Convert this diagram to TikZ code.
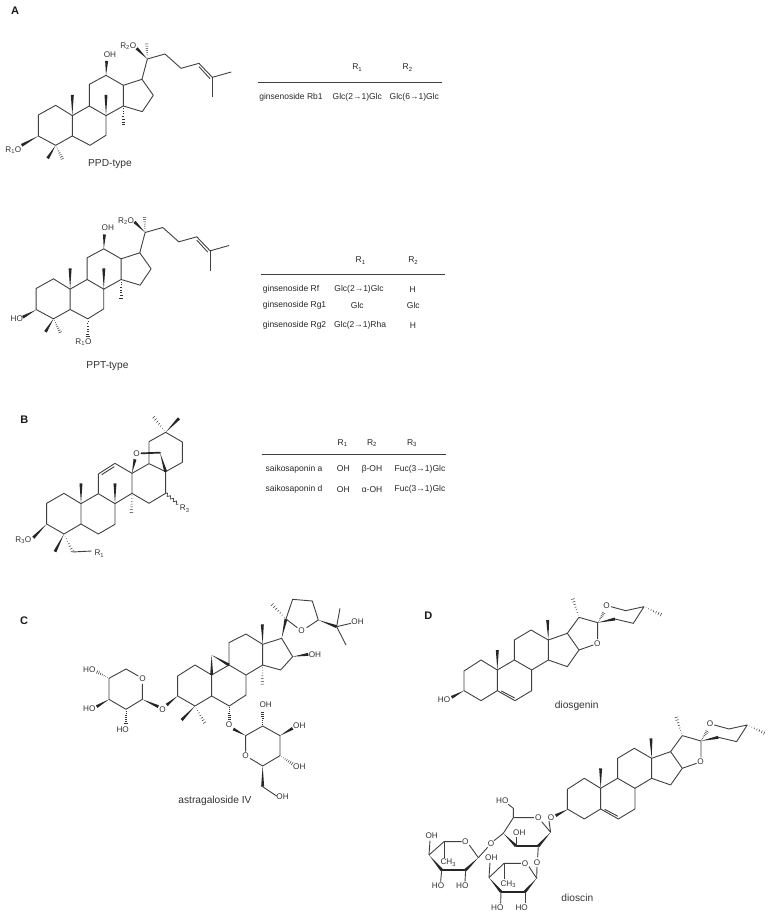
\documentclass[tikz,border=0pt]{standalone}
\usepackage{fontspec}
\setmainfont{Liberation Sans}
\usetikzlibrary{calc,decorations.pathmorphing}

\newcommand{\atomfont}{\fontsize{8.2}{9}\selectfont}
\newcommand{\cellfont}{\fontsize{8.5}{10}\selectfont}
\newcommand{\namefont}{\fontsize{10.2}{12}\selectfont}
\newcommand{\panelfont}{\fontsize{11}{12}\selectfont\bfseries}

\tikzset{
  crop/.style 2 args={shift={(#1,#2)},x=0.3333pt,y=-0.3333pt},
  bond/.style={draw=black!75,line width=0.9pt,line join=round},
  thickbond/.style={draw=black!85,line width=1.7pt,line cap=round},
  atom/.style={font=\atomfont,text=black!80,inner sep=0pt},
  cell/.style={font=\cellfont,text=black!85,inner sep=0pt},
  molname/.style={font=\namefont,text=black!80,inner sep=0pt},
  panel/.style={font=\panelfont,text=black!90,inner sep=0pt},
  rule/.style={draw=black!75,line width=0.9pt}
}

% solid and hashed stereo bonds, narrow end first
\newcommand{\wdgbond}[2]{\fill[black!85] #1 -- ($#2!1.5pt!90:#1$) -- ($#2!1.5pt!-90:#1$) -- cycle;}
\newcommand{\hshbond}[2]{\foreach \t in {0.12,0.26,0.40,0.54,0.68,0.82,0.96}{%
  \draw[black!80,line width=0.5pt] ($#1!\t!#2!\t*1.8pt!90:#2$) -- ($#1!\t!#2!\t*1.8pt!-90:#2$);}}

% four rings and side chain of the dammarane type
\newcommand{\dammarane}{
  \draw[bond] (115,345) -- (167,316) -- (217,347) -- (217,408) -- (167,436) -- (115,408) -- cycle;
  \draw[bond] (217,347) -- (268,318) -- (318,347) -- (318,406) -- (270,436) -- (217,408);
  \draw[bond] (268,318) -- (268,253) -- (318,226) -- (370,256) -- (370,318) -- (318,347);
  \draw[bond] (370,256) -- (426,238) -- (460,286) -- (427,335) -- (370,318);
  \draw[bond] (426,238) -- (442,177) -- (495,162) -- (543,205) -- (597,190) -- (637,232) -- (694,216);
  \draw[bond] (637,232) -- (637,292);
  \draw[bond] (597,200) -- (630,236);
  \wdgbond{(217,347)}{(217,285)}
  \wdgbond{(318,347)}{(318,285)}
  \hshbond{(370,318)}{(370,376)}
  \wdgbond{(318,226)}{(320,183)}
  \wdgbond{(442,177)}{(410,145)}
  \hshbond{(442,177)}{(440,130)}
  \wdgbond{(167,436)}{(143,475)}
  \hshbond{(167,436)}{(188,478)}
}

% steroid rings with the spiro ketal
\newcommand{\spirostan}[1]{
  \draw[bond] (132,243) -- (183,210) -- (232,240) -- (232,302) -- (183,332) -- (132,302) -- cycle;
  \draw[bond] (232,240) -- (283,210) -- (335,240) -- (335,302) -- (285,332) -- (232,302);
  \draw[bond] (244,303) -- (284,324);
  \draw[bond] (283,210) -- (283,150) -- (333,120) -- (385,150) -- (385,210) -- (335,240);
  \draw[bond] (385,150) -- (442,130) -- (477,180) -- (442,230) -- (385,210);
  \draw[bond] (442,130) -- (477,82) -- (533,98) -- (533,147);
  \draw[bond] (477,180) -- (520,165);
  \draw[bond] (585,87) -- (640,100) -- (672,50) -- (617,62) -- (573,50);
  \wdgbond{(232,240)}{(232,180)}
  \wdgbond{(385,150)}{(383,90)}
  \hshbond{(477,82)}{(458,25)}
  \wdgbond{(533,98)}{(585,87)}
  \hshbond{(533,98)}{(552,68)}
  \hshbond{(672,50)}{(725,75)}
  \node[atom] (#1furan) at (532,160) {O};
  \node[atom] (#1pyran) at (560,47) {O};
}

\begin{document}
\begin{tikzpicture}[x=1pt,y=-1pt]
  \path[use as bounding box] (0,0) rectangle (772,917);

  %% panel A
  \node[panel] (panela) at (15,11) {A};
  \begin{scope}[crop={0}{0}]
    \dammarane
    \wdgbond{(115,408)}{(65,436)}
    \node[atom] (ppdoh) at (330,163) {OH};
    \node[atom] (ppdrtwo) at (385,138) {R\textsubscript{2}O};
    \node[atom] (ppdrone) at (40,450) {R\textsubscript{1}O};
    \node[molname] (ppd) at (330,493) {PPD-type};
  \end{scope}
  \draw[rule] (258,82) -- (442,82);
  \node[cell] (rbrone) at (357.3,67.7) {R\textsubscript{1}};
  \node[cell] (rbrtwo) at (407.7,67.7) {R\textsubscript{2}};
  \node[cell] (rbname) at (291,97.7) {ginsenoside Rb1};
  \node[cell] (rbone) at (357.3,97.7) {Glc(2→1)Glc};
  \node[cell] (rbtwo) at (414.3,97.7) {Glc(6→1)Glc};

  \begin{scope}[crop={-2.2}{173.5}]
    \dammarane
    \wdgbond{(115,409)}{(75,431)}
    \hshbond{(270,436)}{(270,492)}
    \node[atom] (pptoh) at (330,163) {OH};
    \node[atom] (pptrtwo) at (385,143) {R\textsubscript{2}O};
    \node[atom] (ppthoa) at (57,436) {HO};
    \node[atom] (pptrone) at (257,507) {R\textsubscript{1}O};
    \node[molname] (ppt) at (329,579) {PPT-type};
  \end{scope}
  \draw[rule] (261,274.3) -- (445,274.3);
  \node[cell] (rgrone) at (360.7,260.7) {R\textsubscript{1}};
  \node[cell] (rgrtwo) at (413.3,260.7) {R\textsubscript{2}};
  \node[cell,anchor=west] (rfname) at (262.7,289.7) {ginsenoside Rf};
  \node[cell] (rfone) at (359,289.7) {Glc(2→1)Glc};
  \node[cell] (rftwo) at (412.7,289.7) {H};
  \node[cell,anchor=west] (rganame) at (262.7,305) {ginsenoside Rg1};
  \node[cell] (rgaone) at (357.3,305) {Glc};
  \node[cell] (rgatwo) at (413.3,305) {Glc};
  \node[cell,anchor=west] (rgbname) at (262.7,325.7) {ginsenoside Rg2};
  \node[cell] (rgbone) at (360,325.7) {Glc(2→1)Rha};
  \node[cell] (rgbtwo) at (413,325.7) {H};

  %% panel B
  \begin{scope}[crop={0}{400}]
    \node[panel] (panelb) at (73,58) {B};
    \draw[bond] (140,310) -- (192,280) -- (243,311) -- (243,372) -- (192,402) -- (140,372) -- cycle;
    \draw[bond] (243,311) -- (295,281) -- (345,311) -- (345,373) -- (295,402) -- (243,372);
    \draw[bond] (295,281) -- (295,222) -- (345,190) -- (396,220) -- (396,280) -- (345,311);
    \draw[bond] (305,224) -- (343,200);
    \draw[bond] (396,220) -- (447,191) -- (497,215) -- (497,280) -- (447,310) -- (396,280);
    \draw[bond] (447,191) -- (447,125) -- (497,97) -- (547,126) -- (547,187) -- (497,215);
    \wdgbond{(243,311)}{(243,250)}
    \wdgbond{(345,311)}{(345,250)}
    \hshbond{(396,280)}{(394,340)}
    \wdgbond{(497,97)}{(537,55)}
    \hshbond{(497,97)}{(460,50)}
    \wdgbond{(396,220)}{(405,178)}
    \draw[thickbond] (424,160) -- (480,158);
    \wdgbond{(480,158)}{(497,215)}
    \draw[draw=black!75,line width=0.7pt,decorate,decoration={snake,amplitude=1.4pt,segment length=4pt}] (497,280) -- (535,313);
    \wdgbond{(140,372)}{(100,413)}
    \wdgbond{(192,402)}{(165,455)}
    \hshbond{(192,402)}{(218,456)}
    \draw[bond] (218,456) -- (275,453);
    \node[atom] (ssko) at (410,160) {O};
    \node[atom] (sskrtwo) at (554,326) {R\textsubscript{3}};
    \node[atom] (sskrthree) at (70,421) {R\textsubscript{3}O};
    \node[atom] (sskrone) at (298,461) {R\textsubscript{1}};
  \end{scope}
  \draw[rule] (261.7,454) -- (445.7,454);
  \node[cell] (ssrone) at (342.7,443.3) {R\textsubscript{1}};
  \node[cell] (ssrtwo) at (372,443.3) {R\textsubscript{2}};
  \node[cell] (ssrthree) at (412,443.3) {R\textsubscript{3}};
  \node[cell] (ssaname) at (294,469) {saikosaponin a};
  \node[cell] (ssaone) at (343.3,469) {OH};
  \node[cell] (ssatwo) at (372,469) {β-OH};
  \node[cell] (ssathree) at (420,469) {Fuc(3→1)Glc};
  \node[cell] (ssdname) at (294,489.3) {saikosaponin d};
  \node[cell] (ssdone) at (343.3,489.3) {OH};
  \node[cell] (ssdtwo) at (372,489.3) {α-OH};
  \node[cell] (ssdthree) at (420,489.3) {Fuc(3→1)Glc};

  %% panel C
  \node[panel] (panelc) at (24,621) {C};
  \begin{scope}[crop={70}{590}]
    \draw[bond] (323,258) -- (375,225) -- (425,255) -- (425,318) -- (375,348) -- (323,318) -- cycle;
    \draw[bond] (425,255) -- (477,225) -- (528,255) -- (528,315) -- (478,348) -- (425,318);
    \draw[bond] (477,225) -- (477,158) -- (528,132) -- (578,163) -- (578,225) -- (528,255);
    \draw[bond] (578,163) -- (635,145) -- (668,200) -- (632,240) -- (578,225);
    \wdgbond{(425,195)}{(425,255)}
    \wdgbond{(425,195)}{(477,225)}
    \wdgbond{(578,163)}{(577,103)}
    \hshbond{(578,225)}{(577,285)}
    \wdgbond{(668,200)}{(715,193)}
    \wdgbond{(635,145)}{(648,87)}
    \draw[bond] (682,113) -- (648,87) -- (668,28) -- (727,33) -- (745,90) -- (710,113);
    \hshbond{(648,87)}{(605,42)}
    \wdgbond{(745,90)}{(800,110)}
    \draw[bond] (810,55) -- (800,110) -- (828,165);
    \draw[bond] (800,110) -- (843,100);
    \wdgbond{(323,318)}{(290,345)}
    \wdgbond{(217,328)}{(265,350)}
    \draw[bond] (217,282) -- (217,328) -- (168,358) -- (117,328) -- (117,265) -- (168,237) -- (205,258);
    \hshbond{(117,265)}{(80,245)}
    \wdgbond{(117,328)}{(80,350)}
    \hshbond{(168,358)}{(168,400)}
    \wdgbond{(375,348)}{(335,390)}
    \hshbond{(375,348)}{(405,400)}
    \hshbond{(478,348)}{(478,390)}
    \wdgbond{(527,437)}{(490,417)}
    \draw[bond] (527,485) -- (527,437) -- (578,408) -- (630,437) -- (630,497) -- (578,528) -- (540,505);
    \hshbond{(578,408)}{(578,365)}
    \wdgbond{(630,437)}{(668,415)}
    \hshbond{(630,497)}{(668,522)}
    \wdgbond{(578,528)}{(578,590)}
    \draw[bond] (578,590) -- (620,618);
    \node[atom] (astrao) at (695,122) {O};
    \node[atom] (astraoha) at (735,193) {OH};
    \node[atom] (astraohb) at (863,96) {OH};
    \node[atom] (astraoc) at (278,358) {O};
    \node[atom] (astraod) at (218,266) {O};
    \node[atom] (astrahoa) at (58,238) {HO};
    \node[atom] (astrahob) at (58,357) {HO};
    \node[atom] (astrahoc) at (158,420) {HO};
    \node[atom] (astraoe) at (477,405) {O};
    \node[atom] (astraof) at (527,497) {O};
    \node[atom] (astraohc) at (587,345) {OH};
    \node[atom] (astraohd) at (688,407) {OH};
    \node[atom] (astraohe) at (688,530) {OH};
    \node[atom] (astraohf) at (638,620) {OH};
    \node[molname] (astra) at (435,633) {astragaloside IV};
  \end{scope}

  %% panel D
  \begin{scope}[crop={420}{590}]
    \node[panel] (paneld) at (25,78) {D};
    \spirostan{dg}
    \wdgbond{(132,302)}{(95,322)}
    \node[atom] (dgho) at (72,330) {HO};
    \node[molname] (dg) at (470,347) {diosgenin};
  \end{scope}
  \begin{scope}[crop={523.3}{708.3}]
    \spirostan{ds}
  \end{scope}
  \begin{scope}[crop={410}{710}]
    \wdgbond{(475,297)}{(437,317)}
    \node[atom] (dsoa) at (423,322) {O};
    % glucose
    \draw[bond] (372,323) -- (310,323) -- (280,370);
    \draw[bond] (395,335) -- (422,367) -- (417,333);
    \wdgbond{(422,367)}{(385,408)}
    \draw[thickbond] (385,408) -- (318,408);
    \wdgbond{(280,370)}{(318,408)}
    \draw[bond] (310,323) -- (310,295) -- (295,283);
    \draw[bond] (318,408) -- (318,382);
    \draw[bond] (385,408) -- (383,442);
    \draw[bond] (280,370) -- (252,392);
    \draw[bond] (233,412) -- (205,443);
    \node[atom] (dsob) at (385,322) {O};
    \node[atom] (dsho) at (277,273) {HO};
    \node[atom] (dsoh) at (328,368) {OH};
    \node[atom] (dsoc) at (381,457) {O};
    \node[atom] (dsod) at (243,401) {O};
    % upper rhamnose
    \draw[bond] (155,395) -- (102,395) -- (57,435);
    \draw[bond] (178,405) -- (205,443);
    \wdgbond{(205,443)}{(167,480)}
    \draw[thickbond] (167,480) -- (95,480);
    \wdgbond{(57,435)}{(95,480)}
    \draw[bond] (102,395) -- (102,445);
    \draw[bond] (57,435) -- (60,392);
    \draw[bond] (95,480) -- (92,515);
    \draw[bond] (167,480) -- (165,515);
    \node[atom] (rhao) at (166,396) {O};
    \node[atom] (rhach) at (115,458) {CH\textsubscript{3}};
    \node[atom] (rhaoh) at (65,376) {OH};
    \node[atom] (rhahoa) at (84,528) {HO};
    \node[atom] (rhahob) at (157,528) {HO};
    % lower rhamnose
    \draw[bond] (381,470) -- (380,505);
    \draw[bond] (333,460) -- (282,460) -- (237,503);
    \draw[bond] (357,470) -- (380,505);
    \wdgbond{(380,505)}{(345,545)}
    \draw[thickbond] (345,545) -- (273,545);
    \wdgbond{(237,503)}{(273,545)}
    \draw[bond] (282,460) -- (282,508);
    \draw[bond] (237,503) -- (240,458);
    \draw[bond] (273,545) -- (272,580);
    \draw[bond] (345,545) -- (345,580);
    \node[atom] (rhbo) at (345,460) {O};
    \node[atom] (rhbch) at (295,522) {CH\textsubscript{3}};
    \node[atom] (rhboh) at (244,442) {OH};
    \node[atom] (rhbhoa) at (262,594) {HO};
    \node[atom] (rhbhob) at (335,594) {HO};
    \node[molname] (ds) at (502,565) {dioscin};
  \end{scope}
\end{tikzpicture}
\end{document}
